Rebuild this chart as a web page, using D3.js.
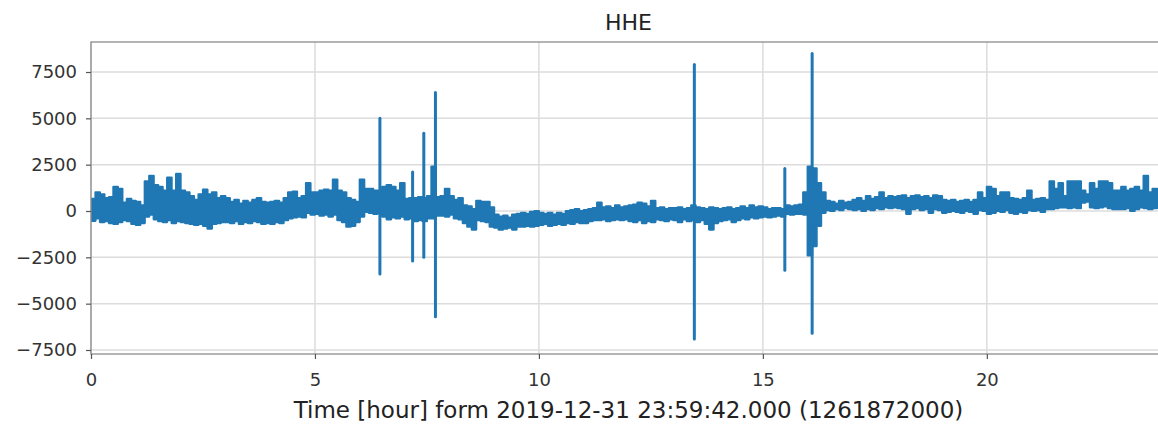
<!DOCTYPE html>
<html>
<head>
<meta charset="utf-8">
<script src="https://cdn.jsdelivr.net/npm/d3@7"></script>
<style>
  body { margin: 0; background: #fff; }
  text { font-family: "DejaVu Sans", sans-serif; }
</style>
</head>
<body>
<svg id="chart"></svg>
<script>
// trace envelope, one bin per 0.1 hour (upper and lower edge of the band)
var binHours = 0.1;
var traceHigh = [
  650, 1000, 900, 700, 750, 1300, 1200, 450, 650, 550,
  500, 300, 1600, 1900, 1400, 1300, 1100, 1800, 1100, 2000,
  1100, 1000, 800, 600, 900, 1150, 900, 1000, 700, 800,
  700, 500, 600, 400, 550, 450, 600, 700, 500, 450,
  500, 550, 450, 700, 1000, 1050, 700, 800, 1500, 1000,
  1000, 1100, 1150, 1100, 1700, 1100, 1000, 700, 600, 500,
  1700, 1200, 1200, 1100, 1100, 1300, 1400, 1300, 1100, 1500,
  650, 700, 700, 750, 700, 800, 2400, 750, 800, 1200,
  800, 600, 700, 300, 250, 100, 550, 500, 500, 200,
  -200, -300, -250, -350, -200, -150, -100, -150, -50, 0,
  -100, -150, -100, -200, -100, -150, 0, 50, 100, 0,
  50, 100, 150, 450, 200, 250, 150, 300, 200, 250,
  300, 350, 450, 400, 250, 550, 150, 200, 100, 150,
  150, 200, 100, 150, 300, 200, 150, 100, 200, 150,
  100, 150, 200, 100, 150, 250, 150, 300, 200, 250,
  200, 100, 150, 150, 100, 300, 250, 300, 350, 1000,
  2400, 2300, 1500, 1000, 550, 500, 400, 550, 450, 500,
  600, 700, 550, 800, 650, 750, 1000, 700, 800, 750,
  800, 850, 700, 800, 850, 750, 800, 700, 850, 800,
  600, 550, 600, 500, 550, 600, 500, 600, 1000, 700,
  1300, 1200, 800, 1000, 1000, 700, 650, 600, 700, 1100,
  600, 650, 700, 600, 1600, 1200, 1500, 800, 1600, 1600,
  1600, 1100, 900, 1500, 1200, 1600, 1600, 1500, 1100, 1100,
  1300, 1100, 1200, 1300, 1100, 1900, 1000, 1200, 1100, 1000
];
var traceLow = [
  -530, -400, -600, -550, -650, -700, -600, -500, -550, -700,
  -750, -650, -300, -200, -450, -550, -600, -500, -650, -550,
  -600, -650, -700, -750, -700, -800, -950, -700, -650, -600,
  -600, -650, -550, -700, -600, -650, -550, -600, -700, -650,
  -700, -600, -650, -500, -400, -350, -300, -350, -100, -200,
  -150, -250, -200, -300, -200, -500, -600, -850, -800, -600,
  -300, -50, -100, -150, -100, -300, -450, -350, -400, -300,
  -450, -400, -550, -500, -550, -400, -400, -250, -250, -300,
  -200, -400, -450, -650, -850, -1000, -500, -550, -600, -850,
  -900, -1000, -950, -900, -1000, -850, -850, -800, -850, -800,
  -750, -700, -800, -750, -700, -750, -650, -700, -600, -650,
  -650, -550, -500, -500, -450, -550, -500, -450, -500, -450,
  -550, -600, -500, -650, -550, -600, -450, -500, -550, -450,
  -500, -600, -450, -550, -500, -600, -500, -700, -1000, -650,
  -550, -500, -450, -600, -500, -400, -450, -350, -400, -350,
  -300, -350, -300, -250, -300, -150, -200, -150, -150, -200,
  -2400, -1900, -800, -100, 50, 0, 100, 50, 150, 100,
  50, 100, 0, 100, 50, 150, 100, 200, 150, 200,
  150, 100, -150, 100, 150, 50, 100, -100, 100, 50,
  -100, -50, 0, -50, -100, 0, -50, -150, 50, 0,
  -150, -100, 0, -50, 50, -100, -150, -50, -100, 50,
  0, 50, -50, 100, 100, 150, 200, 200, 150, 200,
  150, 450, 500, 200, 150, 200, 250, 150, 100, 100,
  100, 150, 0, 100, 200, 150, 100, 150, 200, 100
];
// isolated spikes (events)
var spikeHours = [6.45, 7.18, 7.43, 7.69, 13.47, 15.49, 16.1];
var spikeHigh = [5000, 2100, 4200, 6400, 7900, 2300, 8500];
var spikeLow = [-3400, -2700, -2500, -5700, -6900, -3200, -6600];

var xTicks = [0, 5, 10, 15, 20];
var yTicks = [-7500, -5000, -2500, 0, 2500, 5000, 7500];
var titleText = "HHE";
var xLabelText = "Time [hour] form 2019-12-31 23:59:42.000 (1261872000)";

function init(){
    var W = 1158, H = 426;
    var margin = {top: 42, left: 91, bottom: 72};
    var plotRight = 1166;
    var blue = "#1f77b4";

    var svg = d3.select("#chart").attr("width", W).attr("height", H);

    //scales
    var x = d3.scaleLinear().domain([0, 24]).range([margin.left, plotRight]);
    var y = d3.scaleLinear().domain([-7716, 9119]).range([H - margin.bottom, margin.top]);

    var bins = traceHigh.map(function(v, i) {
        return {t: i * binHours, hi: v, lo: traceLow[i]};
    });
    var spikes = spikeHours.map(function(t, i) {
        return {t: t, hi: spikeHigh[i], lo: spikeLow[i]};
    });

    svg.append("clipPath").attr("id", "clip")
        .append("rect")
        .attr("x", x(0)).attr("y", y.range()[1])
        .attr("width", x(24) - x(0)).attr("height", y.range()[0] - y.range()[1]);

    //grid
    var grid = svg.append("g");
    grid.selectAll(".gx").data(xTicks).enter().append("line")
        .attr("x1", function(d) { return x(d); }).attr("x2", function(d) { return x(d); })
        .attr("y1", y.range()[1]).attr("y2", y.range()[0])
        .attr("stroke", "#dcdcdc").attr("stroke-width", 1.5);
    grid.selectAll(".gy").data(yTicks).enter().append("line")
        .attr("x1", x(0)).attr("x2", x(24))
        .attr("y1", function(d) { return y(d); }).attr("y2", function(d) { return y(d); })
        .attr("stroke", "#dcdcdc").attr("stroke-width", 1.5);

    //trace band
    var band = d3.area()
        .curve(d3.curveStepAfter)
        .x(function(d) { return x(d.t); })
        .y0(function(d) { return y(d.lo); })
        .y1(function(d) { return y(d.hi); });
    var plot = svg.append("g").attr("clip-path", "url(#clip)");
    plot.append("path")
        .datum(bins)
        .attr("fill", blue)
        .attr("stroke", blue)
        .attr("stroke-width", 2.2)
        .attr("stroke-linejoin", "round")
        .attr("d", band);

    //spikes
    plot.selectAll(".spike").data(spikes).enter().append("line")
        .attr("x1", function(d) { return x(d.t); }).attr("x2", function(d) { return x(d.t); })
        .attr("y1", function(d) { return y(d.hi); }).attr("y2", function(d) { return y(d.lo); })
        .attr("stroke", blue).attr("stroke-width", 3).attr("stroke-linecap", "round");

    //frame
    svg.append("rect")
        .attr("x", x(0)).attr("y", y.range()[1])
        .attr("width", x(24) - x(0)).attr("height", y.range()[0] - y.range()[1])
        .attr("fill", "none").attr("stroke", "#8c8c8c").attr("stroke-width", 1.3);

    // axes
    var xAxis = svg.append("g")
        .attr("transform", "translate(0," + y.range()[0] + ")")
        .call(d3.axisBottom(x).tickValues(xTicks).tickSize(5).tickPadding(14).tickFormat(d3.format("d")));
    var yAxis = svg.append("g")
        .attr("transform", "translate(" + x(0) + ",0)")
        .call(d3.axisLeft(y).tickValues(yTicks).tickSize(5).tickPadding(9).tickFormat(d3.format("d")));
    [xAxis, yAxis].forEach(function(a) {
        a.select(".domain").remove();
        a.selectAll("line").attr("stroke", "#555").attr("stroke-width", 1.2);
        a.selectAll("text").attr("fill", "#333").style("font-size", "18px")
            .style("font-family", "'DejaVu Sans', sans-serif");
    });

    //title and label
    svg.append("text")
        .attr("x", (x(0) + x(24)) / 2).attr("y", 30)
        .attr("text-anchor", "middle").attr("fill", "#222")
        .style("font-size", "22px")
        .text(titleText);
    svg.append("text")
        .attr("x", (x(0) + x(24)) / 2).attr("y", 418)
        .attr("text-anchor", "middle").attr("fill", "#222")
        .style("font-size", "23px")
        .text(xLabelText);
}
window.onload = init
</script>
</body>
</html>
